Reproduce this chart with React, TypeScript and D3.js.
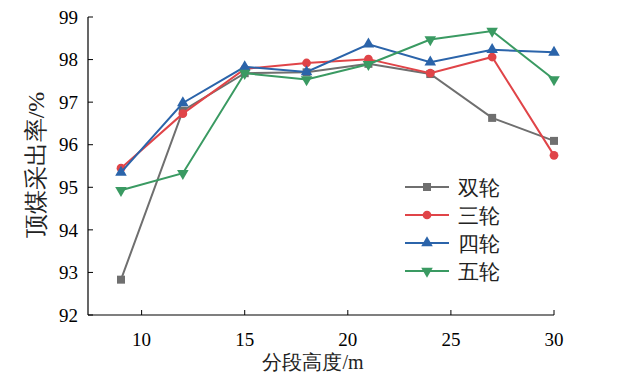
import React from 'react';
import * as d3 from 'd3';

const heights = [9, 12, 15, 18, 21, 24, 27, 30];
const names = ['双轮', '三轮', '四轮', '五轮'];
const shuang = [92.83, 96.8, 97.68, 97.7, 97.9, 97.66, 96.63, 96.09];
const san = [95.45, 96.73, 97.78, 97.92, 98.01, 97.68, 98.06, 95.75];
const si = [95.35, 96.98, 97.83, 97.71, 98.36, 97.94, 98.23, 98.17];
const wu = [94.93, 95.33, 97.68, 97.53, 97.89, 98.47, 98.67, 97.53];
const xTicks = [10, 15, 20, 25, 30];
const yTicks = [92, 93, 94, 95, 96, 97, 98, 99];

const colors = ['#6f6f6f', '#e04448', '#2b64aa', '#3a9a62'];
const symbols = ['square', 'circle', 'up', 'down'];
const font = 'Liberation Serif';

const left = 88, right = 554, top = 17, bottom = 315;
const x = d3.scaleLinear().domain([7.4, 30]).range([left, right]);
const y = d3.scaleLinear().domain([92, 99]).range([bottom, top]);

const symbolPath = (s: string) => {
  if (s === 'square') return d3.symbol(d3.symbolSquare, 64)() as string;
  if (s === 'circle') return d3.symbol(d3.symbolCircle, 60)() as string;
  return d3.symbol(d3.symbolTriangle, 58)() as string;
};

export default function App() {
  const series = [shuang, san, si, wu];
  const line = d3.line<number>().x((_, i) => x(heights[i])).y(d => y(d));

  return (
    <svg width={628} height={388} style={{ position: 'absolute', left: 0, top: 0 }}>
      {/* axes */}
      <line x1={left} x2={right} y1={bottom} y2={bottom} stroke="#000" strokeWidth={1.2} />
      <line x1={left} x2={left} y1={top} y2={bottom} stroke="#000" strokeWidth={1.2} />
      {xTicks.map(t => (
        <g key={t} transform={`translate(${x(t)},${bottom})`}>
          <line y2={-5} stroke="#000" />
          <text y={31} textAnchor="middle" style={{ fontFamily: font, fontSize: 19 }} fill="#000">{t}</text>
        </g>
      ))}
      {yTicks.map(t => (
        <g key={t} transform={`translate(${left},${y(t)})`}>
          <line x2={5} stroke="#000" />
          <text x={-10} dy="0.35em" textAnchor="end" style={{ fontFamily: font, fontSize: 19 }} fill="#000">{t}</text>
        </g>
      ))}

      {series.map((vals, k) => (
        <g key={k}>
          <path d={line(vals) as string} fill="none" stroke={colors[k]} strokeWidth={2} />
          {vals.map((v, i) => (
            <path key={i} d={symbolPath(symbols[k])} fill={colors[k]}
              transform={`translate(${x(heights[i])},${y(v)})${symbols[k] === 'down' ? ' rotate(180)' : ''}`} />
          ))}
        </g>
      ))}

      {/* legend */}
      <g transform="translate(405,187)">
        {names.map((n, k) => (
          <g key={n} transform={`translate(0,${k * 28})`}>
            <line x1={0} x2={44} stroke={colors[k]} strokeWidth={2} />
            <path d={symbolPath(symbols[k])} fill={colors[k]}
              transform={`translate(22,0)${symbols[k] === 'down' ? ' rotate(180)' : ''}`} />
            <text x={53} dy="0.36em" style={{ fontFamily: font, fontSize: 21 }} fill="#222">{n}</text>
          </g>
        ))}
      </g>

      <text x={(left + right) / 2 - 8} y={369} textAnchor="middle" style={{ fontFamily: font, fontSize: 20 }} fill="#222">分段高度/m</text>
      <text transform={`translate(44,165) rotate(-90)`} textAnchor="middle"
        style={{ fontFamily: font, fontSize: 24 }} fill="#222">顶煤采出率/%</text>
    </svg>
  );
}
